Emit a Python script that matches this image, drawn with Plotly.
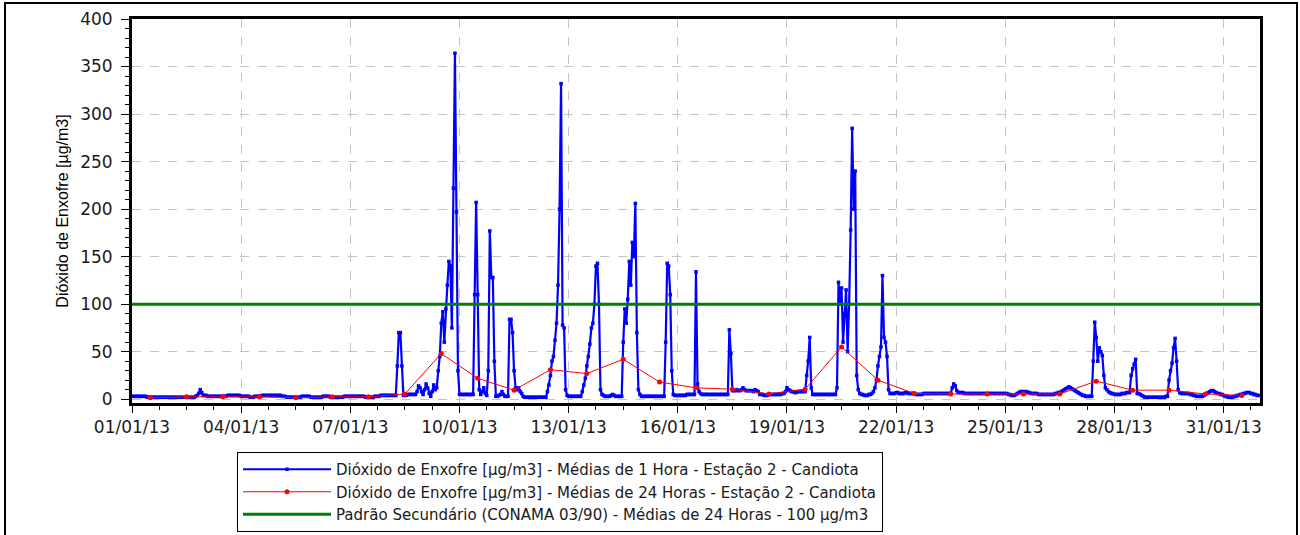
import pandas as pd
import plotly.graph_objects as go

# ---------------- data ----------------
start = "2013-01-01 00:00"
# hourly SO2 means, one list per day (24 values each)
d01 = [3,3,3,3,3,3,3,3,3,3,2,2,2,2,2,2,2,2,2,2,2,2,2,2]
d02 = [2,2,2,2,2,2,2,2,2,2,2,2,2,2,2,2,2,2,3,4,6,10,7,4]
d03 = [4,4,3,3,3,3,3,3,3,3,3,3,3,3,3,4,4,4,4,4,4,4,4,4]
d04 = [3,3,3,3,3,3,2,2,2,3,3,3,3,3,4,4,4,4,4,4,4,4,4,4]
d05 = [4,4,4,3,3,3,2,2,2,2,2,2,2,2,2,2,3,3,3,3,3,3,2,2]
d06 = [2,2,2,2,2,2,3,3,3,3,3,2,2,2,2,2,2,2,2,2,3,3,3,3]
d07 = [3,3,3,3,3,3,3,3,3,3,2,2,2,2,2,2,3,3,3,3,4,4,4,4]
d08 = [4,4,4,4,4,4,4,35,70,70,35,4,4,4,5,5,5,5,5,5,8,14,12,8]
d09 = [5,10,16,12,6,3,8,15,10,12,30,45,80,92,60,95,120,145,140,75,222,364,197,30]
d10 = [5,5,5,5,5,5,5,5,5,5,110,207,110,10,5,8,12,6,4,30,177,128,128,40]
d11 = [3,3,4,5,8,5,3,3,3,84,84,70,30,12,10,12,8,6,3,2,2,2,2,2]
d12 = [2,2,2,2,2,2,2,2,2,2,8,15,25,40,45,62,80,120,200,332,78,75,10,4]
d13 = [3,3,3,3,3,3,3,3,3,8,15,22,35,45,58,75,80,100,140,143,100,10,5,4]
d14 = [3,3,3,3,4,5,4,3,3,3,3,3,60,95,80,105,145,120,165,150,206,70,10,5]
d15 = [3,3,3,3,3,3,3,3,3,3,3,3,3,3,3,3,60,143,140,110,30,5,4,4]
d16 = [4,4,4,4,4,4,5,5,5,5,5,5,134,16,8,6,5,5,5,5,5,5,5,5]
d17 = [5,5,5,5,5,5,5,5,5,5,73,48,9,9,9,10,9,9,10,12,10,9,9,9]
d18 = [9,9,8,10,9,8,5,5,5,4,4,4,5,5,5,5,5,5,5,5,5,6,6,8]
d19 = [12,10,9,8,8,7,7,8,8,8,8,8,8,25,40,65,12,5,5,5,5,5,5,5]
d20 = [5,5,5,5,5,5,5,5,5,12,123,100,117,60,90,115,50,100,178,285,200,240,25,10]
d21 = [6,5,5,4,4,4,5,5,6,8,12,20,35,45,55,130,65,60,45,10,6,6,6,6]
d22 = [7,7,6,6,6,6,7,7,6,6,6,6,6,5,5,5,5,5,6,6,6,6,6,6]
d23 = [6,6,6,6,6,6,6,6,6,6,6,6,6,12,16,14,9,7,7,7,7,6,6,6]
d24 = [6,6,6,6,6,6,6,6,6,6,6,6,6,6,6,6,6,6,6,6,6,6,6,6]
d25 = [6,6,5,5,4,4,4,5,6,7,8,8,8,8,8,7,7,6,6,6,6,6,5,5]
d26 = [5,5,5,5,5,5,5,5,5,6,6,7,7,8,9,10,11,12,13,12,11,10,9,8]
d27 = [7,6,5,4,4,3,3,3,3,3,40,81,65,40,54,50,46,25,12,10,8,7,6,6]
d28 = [5,5,5,5,5,6,6,6,7,7,7,25,32,37,42,6,6,5,4,3,2,2,2,2]
d29 = [2,2,2,2,2,2,2,2,2,2,3,3,20,30,38,54,64,40,10,7,6,6,6,6]
d30 = [6,6,5,5,4,4,3,3,3,3,3,4,5,6,7,8,9,9,8,7,6,6,5,5]
d31 = [4,3,3,2,2,2,2,3,3,4,4,5,5,6,6,7,7,7,6,6,5,5,4,4]

# 24-hour means (plotted at noon of each day)
daily_means = [1.5, 2.5, 2.5, 2.5, 1.5, 2.5, 2.5, 5.5, 48, 22, 9.5, 31, 27, 42,
               18, 12, 10.5, 5.5, 10.5, 55, 20, 6, 5.5, 5.5, 5.5, 5.5, 19, 9.5,
               9.5, 5.5, 4]

standard_value = 100
x_range = ["2013-01-01 00:00", "2013-02-01 00:00"]

name_hourly = "Dióxido de Enxofre [µg/m3] - Médias de 1 Hora - Estação 2 - Candiota"
name_daily = "Dióxido de Enxofre [µg/m3] - Médias de 24 Horas - Estação 2 - Candiota"
name_std = "Padrão Secundário (CONAMA 03/90) - Médias de 24 Horas - 100 µg/m3"
y_title = "Dióxido de Enxofre [µg/m3]"

# ---------------- build ----------------
days = [d01, d02, d03, d04, d05, d06, d07, d08, d09, d10, d11, d12, d13, d14, d15, d16,
        d17, d18, d19, d20, d21, d22, d23, d24, d25, d26, d27, d28, d29, d30, d31]
hourly = [v for d in days for v in d]
t_hourly = pd.date_range(start, periods=len(hourly), freq="h")
t_daily = pd.date_range("2013-01-01 12:00", periods=len(daily_means), freq="D")

fig = go.Figure()
fig.add_trace(go.Scatter(
    x=t_hourly, y=hourly, mode="lines+markers", name=name_hourly,
    line=dict(color="#0000ff", width=2.2),
    marker=dict(color="#0000ff", size=3.5, symbol="square")))
fig.add_trace(go.Scatter(
    x=t_daily, y=daily_means, mode="lines+markers", name=name_daily,
    line=dict(color="#ff0000", width=1),
    marker=dict(color="#ff0000", size=5)))
fig.add_trace(go.Scatter(
    x=x_range, y=[standard_value, standard_value], mode="lines", name=name_std,
    line=dict(color="#008000", width=3)))

L, R, T, B = 132, 40, 19, 132
W, H = 1300, 535
pw, ph = W - L - R, H - T - B

def px(x):
    return (x - L) / pw

def py(y):
    return (H - B - y) / ph

tickfont = dict(family="DejaVu Sans", size=17, color="#1a1a1a")

fig.update_layout(
    width=W, height=H,
    margin=dict(l=L, r=R, t=T, b=B, autoexpand=False),
    paper_bgcolor="white", plot_bgcolor="white",
    showlegend=True,
    legend=dict(
        x=px(237), y=py(452), xanchor="left", yanchor="top",
        bordercolor="black", borderwidth=1,
        font=dict(family="DejaVu Sans", size=15, color="#1a1a1a"),
        itemwidth=88, tracegroupgap=0, bgcolor="white"),
    xaxis=dict(
        type="date", range=x_range, automargin=False,
        tick0="2013-01-01", dtick=3 * 86400000, tickformat="%d/%m/%y",
        ticks="outside", ticklen=7, tickwidth=1, tickcolor="black",
        tickfont=tickfont, ticklabelstandoff=0,
        showline=True, linecolor="black", linewidth=3, mirror=True,
        showgrid=True, gridcolor="#c4c4c4", griddash="dash", gridwidth=1,
        zeroline=False,
        minor=dict(dtick=18 * 3600000, ticks="outside", ticklen=4,
                   tickcolor="black", showgrid=False),
    ),
    yaxis=dict(
        range=[-4, 400], tickvals=[0, 50, 100, 150, 200, 250, 300, 350, 400],
        automargin=False,
        ticks="outside", ticklen=8, tickwidth=1, tickcolor="black",
        tickfont=tickfont, ticklabelstandoff=5,
        showline=True, linecolor="black", linewidth=3, mirror=True,
        showgrid=True, gridcolor="#c4c4c4", griddash="dash", gridwidth=1,
        zeroline=False,
        title=dict(text=y_title, font=dict(family="Liberation Sans", size=16, color="black"),
                   standoff=8),
        minor=dict(dtick=10, ticks="outside", ticklen=4, tickcolor="black", showgrid=False),
    ),
    shapes=[dict(type="rect", xref="paper", yref="paper",
                 x0=px(5), x1=px(1297), y0=py(540), y1=py(3),
                 line=dict(color="black", width=2), fillcolor="rgba(0,0,0,0)",
                 layer="below")],
)

fig.write_html(
    "out.html",
    config={"displayModeBar": False},
    post_script="document.body.style.margin='0';document.body.style.overflow='hidden';",
)
